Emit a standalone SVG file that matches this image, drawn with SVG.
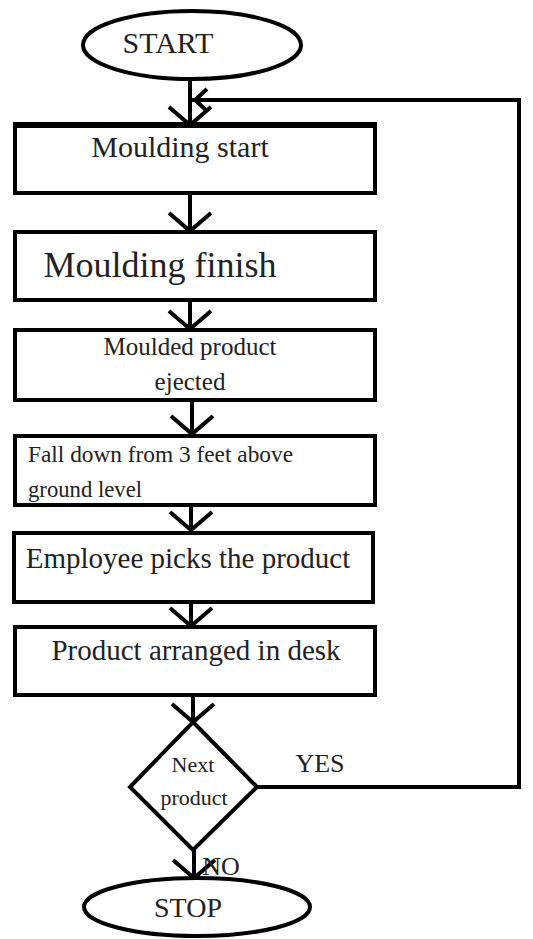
<svg xmlns="http://www.w3.org/2000/svg" width="533" height="939" viewBox="0 0 533 939">
<style>
.shape{fill:#fff;stroke:#000;stroke-width:4}
.conn{fill:none;stroke:#000;stroke-width:4}
text{font-family:"Liberation Serif","Times New Roman",serif;fill:#222;text-anchor:middle}
</style>
<defs>
<marker id="arrow" markerUnits="userSpaceOnUse" markerWidth="30" markerHeight="50" viewBox="0 0 30 50" refX="22" refY="25" orient="auto">
<path d="M4,4 L22,25 L4,46" fill="none" stroke="#000" stroke-width="4"/>
</marker>
<marker id="arrowS" markerUnits="userSpaceOnUse" markerWidth="24" markerHeight="30" viewBox="0 0 24 30" refX="18" refY="15" orient="auto">
<path d="M6,4 L18,15 L6,26" fill="none" stroke="#000" stroke-width="4"/>
</marker>
</defs>
<rect width="533" height="939" fill="#fff"/>
<g id="connectors">
<line class="conn" x1="190" y1="80" x2="190" y2="125" marker-end="url(#arrow)"/>
<line class="conn" x1="190" y1="193" x2="190" y2="231" marker-end="url(#arrow)"/>
<line class="conn" x1="190" y1="300" x2="190" y2="329" marker-end="url(#arrow)"/>
<line class="conn" x1="192" y1="400" x2="192" y2="434" marker-end="url(#arrow)"/>
<line class="conn" x1="191" y1="505" x2="191" y2="530" marker-end="url(#arrow)"/>
<line class="conn" x1="191" y1="602" x2="191" y2="626" marker-end="url(#arrow)"/>
<line class="conn" x1="193" y1="695" x2="193" y2="722" marker-end="url(#arrow)"/>
<line class="conn" x1="194" y1="850" x2="194" y2="878" marker-end="url(#arrow)"/>
<polyline class="conn" points="257,787 519,787 519,100 190,100"/>
<line class="conn" x1="205" y1="100" x2="195" y2="100" marker-end="url(#arrowS)"/>
</g>
<g id="start">
<ellipse class="shape" cx="192" cy="45" rx="109" ry="34" stroke-width="3"/>
<text x="168" y="53" font-size="30">START</text>
</g>
<g id="moulding-start">
<rect class="shape" x="15" y="125" width="360" height="68"/>
<line x1="13" y1="125" x2="377" y2="125" stroke="#000" stroke-width="6"/>
<text x="180" y="157" font-size="30">Moulding start</text>
</g>
<g id="moulding-finish">
<rect class="shape" x="15" y="232" width="360" height="68"/>
<text x="160" y="277" font-size="36">Moulding finish</text>
</g>
<g id="ejected">
<rect class="shape" x="15" y="330" width="360" height="70"/>
<text x="190" y="355" font-size="25">Moulded product</text>
<text x="190" y="390" font-size="25">ejected</text>
</g>
<g id="fall-down">
<rect class="shape" x="15" y="436" width="360" height="69"/>
<text x="28" y="462" font-size="23" style="text-anchor:start" textLength="265" lengthAdjust="spacingAndGlyphs">Fall down from 3 feet above</text>
<text x="28" y="497" font-size="23" style="text-anchor:start" textLength="114" lengthAdjust="spacingAndGlyphs">ground level</text>
</g>
<g id="employee-picks">
<rect class="shape" x="14" y="533" width="359" height="69" stroke-width="5"/>
<text x="188" y="568" font-size="29">Employee picks the product</text>
</g>
<g id="arranged">
<rect class="shape" x="15" y="627" width="360" height="68"/>
<text x="196" y="660" font-size="29">Product arranged in desk</text>
</g>
<g id="decision">
<polygon class="shape" points="193,722 257,787 193,850 130,787"/>
<text x="193" y="772" font-size="22">Next</text>
<text x="194" y="805" font-size="22">product</text>
<text x="320" y="772" font-size="26">YES</text>
<text x="221" y="875" font-size="26">NO</text>
</g>
<g id="stop">
<ellipse class="shape" cx="197" cy="907" rx="113" ry="29" stroke-width="3"/>
<text x="188" y="917" font-size="28">STOP</text>
</g>
</svg>
